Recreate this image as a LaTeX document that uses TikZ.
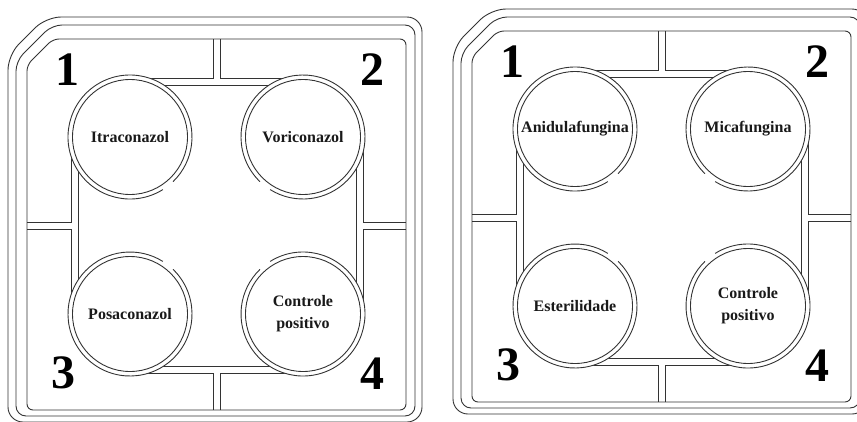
\documentclass[tikz,border=0pt]{standalone}
\usepackage{fontspec}
\setmainfont{Liberation Serif}
\usepackage{tikz}
\usetikzlibrary{calc}
\tikzset{
	linha/.style={line width=0.9pt, draw=black!80}
}
\tikzset{
	rotulo/.style={font=\fontsize{16}{22}\selectfont\bfseries, align=center, text=black!90}
}
\tikzset{
	numero/.style={font=\fontsize{48}{48}\selectfont\bfseries, inner sep=0pt}
}
\tikzset{
	poco/.style={circle, linha, fill=white, minimum size=115pt, inner sep=0pt}
}
% #1 prefixo dos nomes, #2-#5 rotulos dos pocos 1-4
\newcommand{\placa}[5]{
      % molduras
      \draw[linha, rounded corners=15pt] (-19,16) -- (19,-22) -- (395,-22) -- (395,383) -- (-19,383) -- cycle;
      \draw[linha, rounded corners=10pt] (-11,22) -- (25,-14) -- (388,-14) -- (388,377) -- (-11,377) -- cycle;
      \draw[linha, rounded corners=6pt] (0,26) -- (26,0) -- (379,0) -- (379,371) -- (0,371) -- cycle;
      % canais entre os pocos
      \draw[linha] (103,39) -- (186,39) -- (186,0);
      \draw[linha] (193,0) -- (193,39) -- (276,39);
      \draw[linha] (103,46) -- (276,46);
      \draw[linha] (103,334) -- (186,334) -- (186,371);
      \draw[linha] (193,371) -- (193,334) -- (276,334);
      \draw[linha] (103,327) -- (276,327);
      \draw[linha] (44,98) -- (44,183) -- (0,183);
      \draw[linha] (0,190) -- (44,190) -- (44,275);
      \draw[linha] (51,98) -- (51,275);
      \draw[linha] (336,98) -- (336,183) -- (379,183);
      \draw[linha] (379,190) -- (336,190) -- (336,275);
      \draw[linha] (329,98) -- (329,275);
      % pocos com borda dupla
      \foreach \n/\x/\y/\a in {1/103/98/52, 2/276/98/128, 3/103/275/308, 4/276/275/232}{
        \fill[white] (\x,\y) circle (62);
        \node[poco] (#1c\n) at (\x,\y) {};
        \draw[linha] (#1c\n.center) ++(\a+6:62) arc[start angle=\a+6, end angle=\a+354, radius=62];
      }
      \node[rotulo] (#1t1) at (#1c1) {#2};
      \node[rotulo] (#1t2) at (#1c2) {#3};
      \node[rotulo] (#1t3) at (#1c3) {#4};
      \node[rotulo] (#1t4) at (#1c4) {#5};
      \node[numero] (#1n1) at (40,31) {1};
      \node[numero] (#1n2) at (345,31) {2};
      \node[numero] (#1n3) at (36,334) {3};
      \node[numero] (#1n4) at (345,335) {4};
}

\begin{document}
\begin{tikzpicture}[x=1pt, y=-1pt]
      \useasboundingbox (0,0) rectangle (857,421);
      \clip (0,0) rectangle (857,421);
      \begin{scope}[shift={(27,39)}]
        \placa{e}{Itraconazol}{Voriconazol}{Posaconazol}{Controle\\positivo}
      \end{scope}
      \begin{scope}[shift={(472,31)}]
        \placa{d}{Anidulafungina}{Micafungina}{Esterilidade}{Controle\\positivo}
      \end{scope}
\end{tikzpicture}
\end{document}
